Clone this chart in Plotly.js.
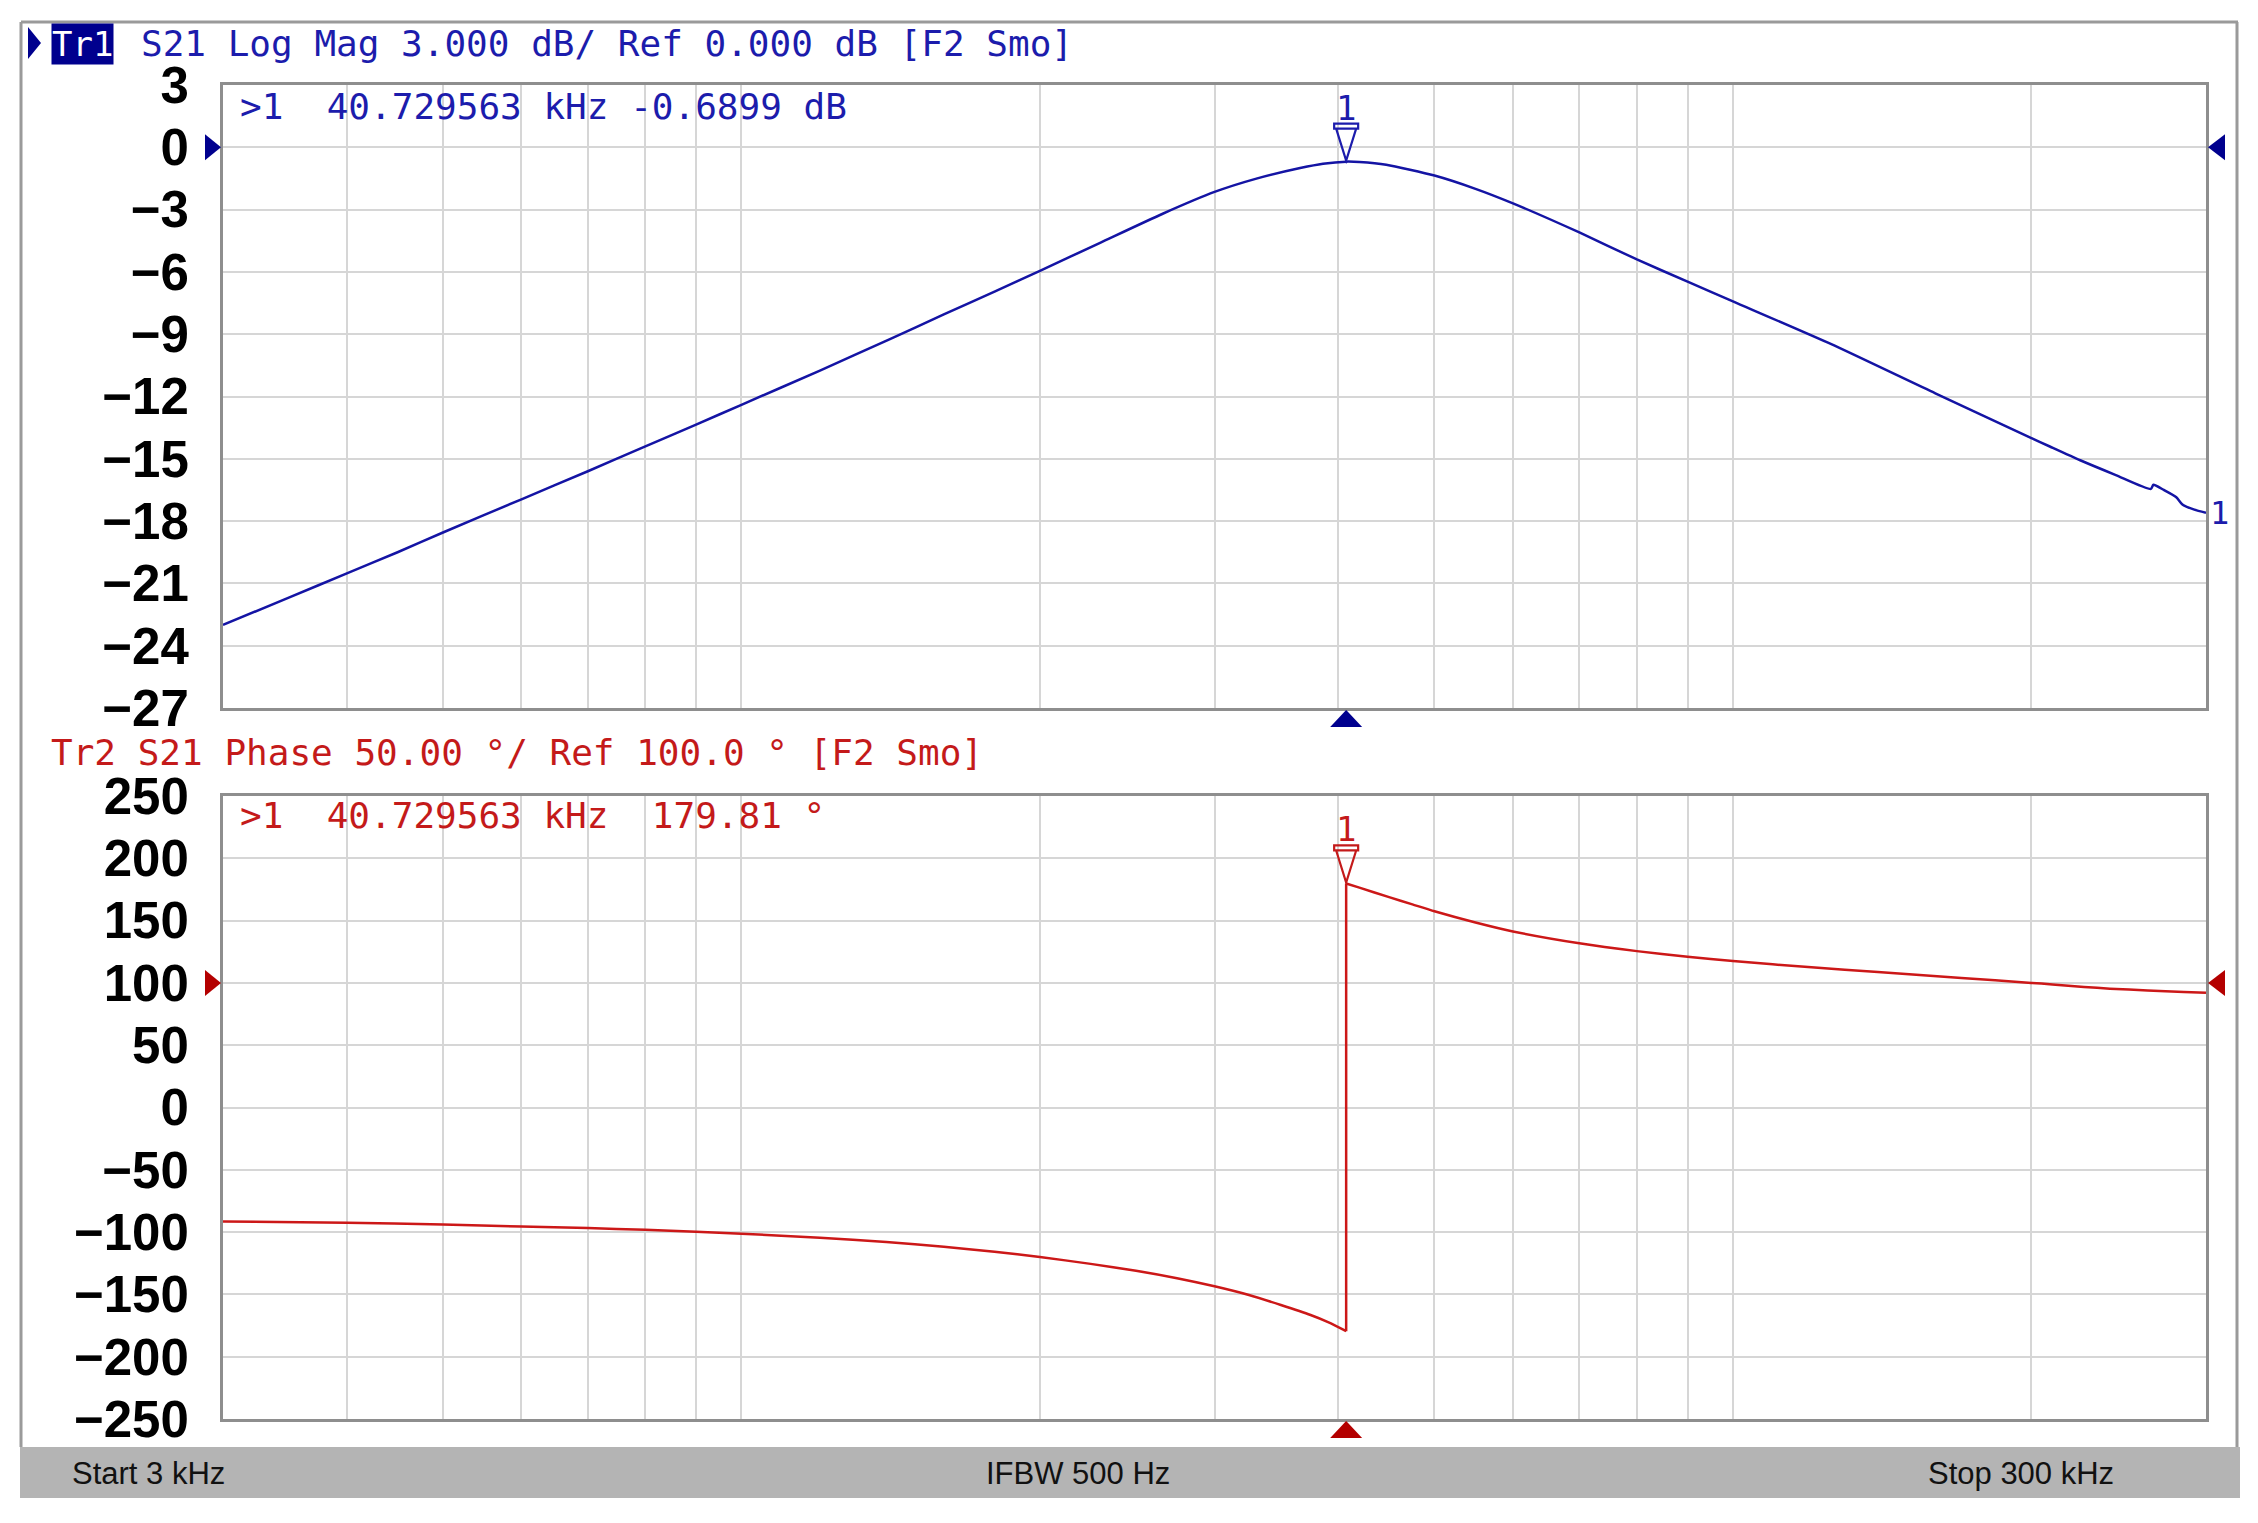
<!DOCTYPE html>
<html><head><meta charset="utf-8">
<script src="https://cdn.plot.ly/plotly-3.0.1.min.js"></script>
<style>html,body{margin:0;padding:0;background:#fff;}#chart{width:2258px;height:1523px;}</style>
</head><body><div id="chart"></div>
<script>
// ---- data (frequency in kHz) ----
const magFreqKHz = [3, 3.5, 4, 4.5, 5, 6, 7, 8, 9, 10, 12, 14.1, 16, 18, 20, 23, 26.6, 30, 33, 36.6, 38.6, 40.729563, 42, 44.7, 50, 55, 60, 70, 80, 90, 100, 125.5, 160, 200, 209, 224, 243, 264, 265.5, 272, 280, 284, 292, 300];
const magDB      = [-23.0, -21.67, -20.52, -19.5, -18.55, -16.95, -15.6, -14.4, -13.35, -12.4, -10.75, -9.25, -8.05, -6.95, -5.95, -4.6, -3.2, -2.15, -1.52, -1.0, -0.79, -0.6899, -0.71, -0.84, -1.36, -2.0, -2.7, -4.1, -5.4, -6.47, -7.42, -9.47, -11.85, -14.0, -14.42, -15.07, -15.77, -16.45, -16.25, -16.5, -16.85, -17.2, -17.45, -17.6];

const phaseFreqKHz = [3, 4, 5, 6, 7, 8, 9, 10, 12, 14, 16, 18, 20, 22.5, 25, 27.5, 30, 32.5, 35, 37.5, 39, 40.5, 40.729563, 40.729563, 42, 45, 47.5, 50, 55, 60, 70, 80, 90, 100, 120, 140, 170, 200, 210, 226, 240, 262, 285, 300];
const phaseDeg     = [-91.5, -92.5, -94, -95.5, -96.8, -98.2, -99.7, -101.3, -104.5, -108, -111.8, -115.8, -120, -125.5, -131, -137, -143.5, -150.5, -158.5, -166.5, -172, -178.5, -179.6, 179.81, 176.5, 168.8, 163, 157.5, 148.5, 141.3, 131.8, 125.5, 121, 117.5, 112.5, 108.8, 104, 100, 98.8, 96.7, 95.4, 94.0, 92.7, 92];

const gridFreqKHz = [3, 4, 5, 6, 7, 8, 9, 10, 20, 30, 40, 50, 60, 70, 80, 90, 100, 200, 300];
const magTicks = [3, 0, -3, -6, -9, -12, -15, -18, -21, -24, -27];
const phaseTicks = [250, 200, 150, 100, 50, 0, -50, -100, -150, -200, -250];

const markerFreqKHz = 40.729563;
const markerMagDB = -0.6899;
const markerPhaseDeg = 179.81;
const magRefDB = 0;
const phaseRefDeg = 100;

const header1 = 'S21 Log Mag 3.000 dB/ Ref 0.000 dB [F2 Smo]';
const header2 = 'Tr2 S21 Phase 50.00 °/ Ref 100.0 ° [F2 Smo]';
const statusTexts = ['Start 3 kHz', 'IFBW 500 Hz', 'Stop 300 kHz'];

// ---- styling ----
const W = 2258, H = 1523;
const px = v => v / W;
const py = v => 1 - v / H;
const BLUE = '#1c1cac', BLUE_TR = '#1414a4', NAVY = '#00008e';
const RED = '#c41a1a', RED_TR = '#cc1818', DRED = '#b40000';
const GRID = '#d6d6d6', BORDER = '#8e8e8e';
const MONO = 'DejaVu Sans Mono, Liberation Mono, monospace';
const nb = s => s.replace(/ /g, '\u00a0');

const xBase = {
  type: 'log', range: [Math.log10(3), Math.log10(300)],
  domain: [px(223), px(2206)],
  tickmode: 'array', tickvals: gridFreqKHz, showticklabels: false, ticks: '',
  showgrid: true, gridcolor: GRID, gridwidth: 2,
  showline: true, mirror: true, linecolor: BORDER, linewidth: 3, zeroline: false
};
const yBase = {
  tickmode: 'array', ticks: '', showgrid: true, gridcolor: GRID, gridwidth: 2,
  showline: true, mirror: true, linecolor: BORDER, linewidth: 3, zeroline: false,
  ticklabelstandoff: 21,
  tickfont: {family: 'Liberation Sans, Arial, sans-serif', size: 51, weight: 700, color: '#000'}
};

// split the phase trace at the wrap (two equal frequencies) so each branch can be smoothed
let jump = 0;
for (let i = 1; i < phaseFreqKHz.length; i++) { if (phaseFreqKHz[i] === phaseFreqKHz[i - 1]) { jump = i; break; } }
const phaseLine = {color: RED_TR, width: 2.5, shape: 'spline', smoothing: 0.6};

const traces = [
  {x: magFreqKHz, y: magDB, xaxis: 'x', yaxis: 'y', mode: 'lines',
   line: {color: BLUE_TR, width: 2.5, shape: 'spline', smoothing: 0.6}, hoverinfo: 'skip'},
  {x: phaseFreqKHz.slice(0, jump), y: phaseDeg.slice(0, jump), xaxis: 'x2', yaxis: 'y2', mode: 'lines',
   line: phaseLine, hoverinfo: 'skip'},
  {x: phaseFreqKHz.slice(jump - 1, jump + 1), y: phaseDeg.slice(jump - 1, jump + 1), xaxis: 'x2', yaxis: 'y2', mode: 'lines',
   line: {color: RED_TR, width: 2.5}, hoverinfo: 'skip'},
  {x: phaseFreqKHz.slice(jump), y: phaseDeg.slice(jump), xaxis: 'x2', yaxis: 'y2', mode: 'lines',
   line: phaseLine, hoverinfo: 'skip'}
];

const markerPath = 'M -12 38 L 12 38 L 12 33 L -12 33 Z M -10 33 L 0 1 L 10 33';
const shapes = [
  // outer frame + status bar
  {type: 'rect', xref: 'paper', yref: 'paper', x0: px(20), x1: px(2240), y0: py(1498), y1: py(1447),
   fillcolor: '#b4b4b4', line: {width: 0}, layer: 'below'},
  {type: 'line', xref: 'paper', yref: 'paper', x0: px(21), x1: px(2238), y0: py(22), y1: py(22),
   line: {color: '#9a9a9a', width: 3}},
  {type: 'line', xref: 'paper', yref: 'paper', x0: px(21), x1: px(21), y0: py(22), y1: py(1447),
   line: {color: '#9a9a9a', width: 3}},
  {type: 'line', xref: 'paper', yref: 'paper', x0: px(2237), x1: px(2237), y0: py(22), y1: py(1447),
   line: {color: '#9a9a9a', width: 3}},
  // active trace indicator
  {type: 'path', xref: 'paper', yref: 'paper', xsizemode: 'pixel', ysizemode: 'pixel',
   xanchor: 0, yanchor: 1, path: 'M 28 -27 L 41 -43 L 28 -59 Z',
   fillcolor: NAVY, line: {width: 0}},
  // reference level triangles
  {type: 'path', xref: 'x domain', yref: 'y', xsizemode: 'pixel', ysizemode: 'pixel',
   xanchor: 0, yanchor: magRefDB, path: 'M -2 0 L -18 13 L -18 -13 Z', fillcolor: NAVY, line: {width: 0}},
  {type: 'path', xref: 'x domain', yref: 'y', xsizemode: 'pixel', ysizemode: 'pixel',
   xanchor: 1, yanchor: magRefDB, path: 'M 2 0 L 19 13 L 19 -13 Z', fillcolor: NAVY, line: {width: 0}},
  {type: 'path', xref: 'x2 domain', yref: 'y2', xsizemode: 'pixel', ysizemode: 'pixel',
   xanchor: 0, yanchor: phaseRefDeg, path: 'M -2 0 L -18 13 L -18 -13 Z', fillcolor: DRED, line: {width: 0}},
  {type: 'path', xref: 'x2 domain', yref: 'y2', xsizemode: 'pixel', ysizemode: 'pixel',
   xanchor: 1, yanchor: phaseRefDeg, path: 'M 2 0 L 19 13 L 19 -13 Z', fillcolor: DRED, line: {width: 0}},
  // marker position triangles below each plot
  {type: 'path', xref: 'x', yref: 'y domain', xsizemode: 'pixel', ysizemode: 'pixel',
   xanchor: markerFreqKHz, yanchor: 0, path: 'M 0 -2 L -16 -19 L 16 -19 Z', fillcolor: NAVY, line: {width: 0}},
  {type: 'path', xref: 'x2', yref: 'y2 domain', xsizemode: 'pixel', ysizemode: 'pixel',
   xanchor: markerFreqKHz, yanchor: 0, path: 'M 0 -2 L -16 -19 L 16 -19 Z', fillcolor: DRED, line: {width: 0}},
  // marker symbols on the traces
  {type: 'path', xref: 'x', yref: 'y', xsizemode: 'pixel', ysizemode: 'pixel',
   xanchor: markerFreqKHz, yanchor: markerMagDB, path: markerPath, line: {color: BLUE, width: 2.2}},
  {type: 'path', xref: 'x2', yref: 'y2', xsizemode: 'pixel', ysizemode: 'pixel',
   xanchor: markerFreqKHz, yanchor: markerPhaseDeg, path: markerPath, line: {color: RED, width: 2.2}}
];

const monoFont = (c, s) => ({family: MONO, size: s, color: c});
const annotations = [
  {xref: 'paper', yref: 'paper', x: px(51), y: py(44), xanchor: 'left', yanchor: 'middle',
   text: 'Tr1', showarrow: false, bgcolor: NAVY, borderpad: 0, font: monoFont('#ffffff', 34)},
  {xref: 'paper', yref: 'paper', x: px(139), y: py(44), xanchor: 'left', yanchor: 'middle',
   text: nb(header1), showarrow: false, font: monoFont(BLUE, 36)},
  {xref: 'paper', yref: 'paper', x: px(49), y: py(752), xanchor: 'left', yanchor: 'middle',
   text: nb(header2), showarrow: false, font: monoFont(RED, 36)},
  {xref: 'paper', yref: 'paper', x: px(238), y: py(106), xanchor: 'left', yanchor: 'middle',
   text: nb('&gt;1  ' + markerFreqKHz.toFixed(6) + ' kHz ' + markerMagDB.toFixed(4) + ' dB'),
   showarrow: false, font: monoFont(BLUE, 36)},
  {xref: 'paper', yref: 'paper', x: px(238), y: py(815), xanchor: 'left', yanchor: 'middle',
   text: nb('&gt;1  ' + markerFreqKHz.toFixed(6) + ' kHz  ' + markerPhaseDeg.toFixed(2) + ' °'),
   showarrow: false, font: monoFont(RED, 36)},
  // marker numbers
  {xref: 'x', yref: 'y', x: Math.log10(markerFreqKHz), y: markerMagDB, yshift: 54, yanchor: 'middle',
   text: '1', showarrow: false, font: monoFont(BLUE, 34)},
  {xref: 'x2', yref: 'y2', x: Math.log10(markerFreqKHz), y: markerPhaseDeg, yshift: 54, yanchor: 'middle',
   text: '1', showarrow: false, font: monoFont(RED, 34)},
  // trace end label
  {xref: 'x', yref: 'y', x: Math.log10(magFreqKHz[magFreqKHz.length - 1]), y: magDB[magDB.length - 1],
   xanchor: 'left', yanchor: 'middle', xshift: 2, text: '1', showarrow: false, font: monoFont(BLUE, 32)},
  // status bar
  {xref: 'paper', yref: 'paper', x: px(70), y: py(1473), xanchor: 'left', yanchor: 'middle',
   text: statusTexts[0], showarrow: false, font: {family: 'Liberation Sans, Arial', size: 31, color: '#111'}},
  {xref: 'paper', yref: 'paper', x: px(1078), y: py(1473), xanchor: 'center', yanchor: 'middle',
   text: statusTexts[1], showarrow: false, font: {family: 'Liberation Sans, Arial', size: 31, color: '#111'}},
  {xref: 'paper', yref: 'paper', x: px(2116), y: py(1473), xanchor: 'right', yanchor: 'middle',
   text: statusTexts[2], showarrow: false, font: {family: 'Liberation Sans, Arial', size: 31, color: '#111'}}
];

const layout = {
  width: W, height: H, autosize: false,
  margin: {l: 0, r: 0, t: 0, b: 0, pad: 0},
  paper_bgcolor: '#ffffff', plot_bgcolor: '#ffffff',
  showlegend: false,
  xaxis: Object.assign({}, xBase, {anchor: 'y'}),
  xaxis2: Object.assign({}, xBase, {anchor: 'y2'}),
  yaxis: Object.assign({}, yBase, {anchor: 'x', domain: [py(708), py(85)], range: [-27, 3], tickvals: magTicks}),
  yaxis2: Object.assign({}, yBase, {anchor: 'x2', domain: [py(1419), py(796)], range: [-250, 250], tickvals: phaseTicks}),
  shapes: shapes,
  annotations: annotations
};

Plotly.newPlot('chart', traces, layout, {displayModeBar: false, staticPlot: true});
</script>
</body></html>
